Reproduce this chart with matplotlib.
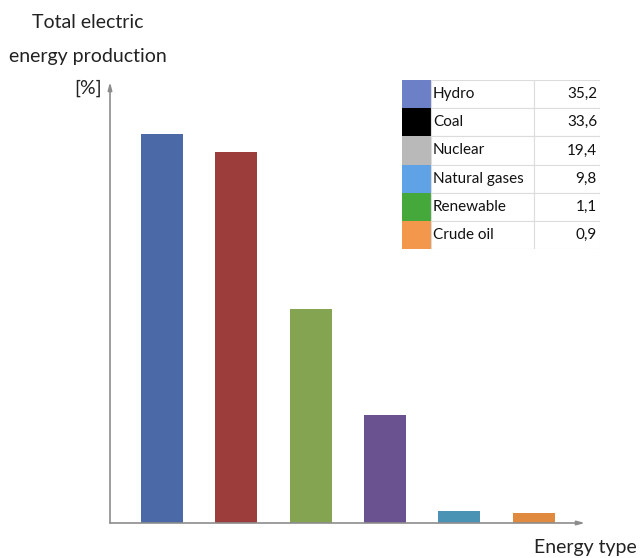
import matplotlib.pyplot as plt
from matplotlib.patches import Rectangle

energy_types = ['Hydro', 'Coal', 'Nuclear', 'Natural gases', 'Renewable', 'Crude oil']
shares = [35.2, 33.6, 19.4, 9.8, 1.1, 0.9]
share_labels = ['35,2', '33,6', '19,4', '9,8', '1,1', '0,9']
bar_colors = ['#4a69a6', '#9c3d3b', '#85a451', '#6a5190', '#4b93b5', '#e08a3f']
key_colors = ['#6b80c6', '#000000', '#b9b9b9', '#60a2e6', '#45a83b', '#f2974c']

plt.rcParams['font.family'] = ['Lato', 'DejaVu Sans']

W, H = 641, 558
fig = plt.figure(figsize=(W / 100, H / 100), dpi=100)


def fx(px):
    return px / W


def fy(py):
    return 1 - py / H


# main bar axes, spines replaced by arrows
ax = fig.add_axes([fx(110), fy(523), fx(585) - fx(110), fy(82) - fy(523)])
x = list(range(len(shares)))
ax.bar(x, shares, width=0.565, color=bar_colors)
ax.set_xlim(-0.70, 5.69)
ax.set_ylim(0, 39.9)
for s in ax.spines.values():
    s.set_visible(False)
ax.set_xticks([])
ax.set_yticks([])
arrow = dict(arrowstyle='-|>,head_length=0.45,head_width=0.12', color='#8c8c8c', lw=1.2,
             shrinkA=0, shrinkB=0)
ax.annotate('', xy=(0, 1), xytext=(0, 0), xycoords='axes fraction', arrowprops=arrow)
ax.annotate('', xy=(1, 0), xytext=(0, 0), xycoords='axes fraction', arrowprops=arrow)

fig.text(fx(88), fy(22), 'Total electric', ha='center', va='center', fontsize=14, color='#222222')
fig.text(fx(88), fy(56), 'energy production', ha='center', va='center', fontsize=14, color='#222222')
fig.text(fx(88), fy(88), '[%]', ha='center', va='center', fontsize=14, color='#222222')
fig.text(fx(585), fy(547), 'Energy type', ha='center', va='center', fontsize=14, color='#222222')

# key table
tab = fig.add_axes([fx(402), fy(249), fx(600) - fx(402), fy(80) - fy(249)])
tab.set_xlim(402, 600)
tab.set_ylim(249, 80)
tab.axis('off')
row_h = (249 - 80) / len(energy_types)
grid = '#dcdcdc'
for i, (name, lab, c) in enumerate(zip(energy_types, share_labels, key_colors)):
    top = 80 + i * row_h
    tab.add_patch(Rectangle((402, top), 29, row_h, facecolor=c, edgecolor='none'))
    tab.add_patch(Rectangle((431, top), 103, row_h, facecolor='white', edgecolor=grid, lw=0.8))
    tab.add_patch(Rectangle((534, top), 66, row_h, facecolor='white', edgecolor=grid, lw=0.8))
    tab.text(433, top + row_h / 2, name, ha='left', va='center', fontsize=11, color='#111111')
    tab.text(597, top + row_h / 2, lab, ha='right', va='center', fontsize=11, color='#111111')

fig.savefig('out.png', dpi=100)
